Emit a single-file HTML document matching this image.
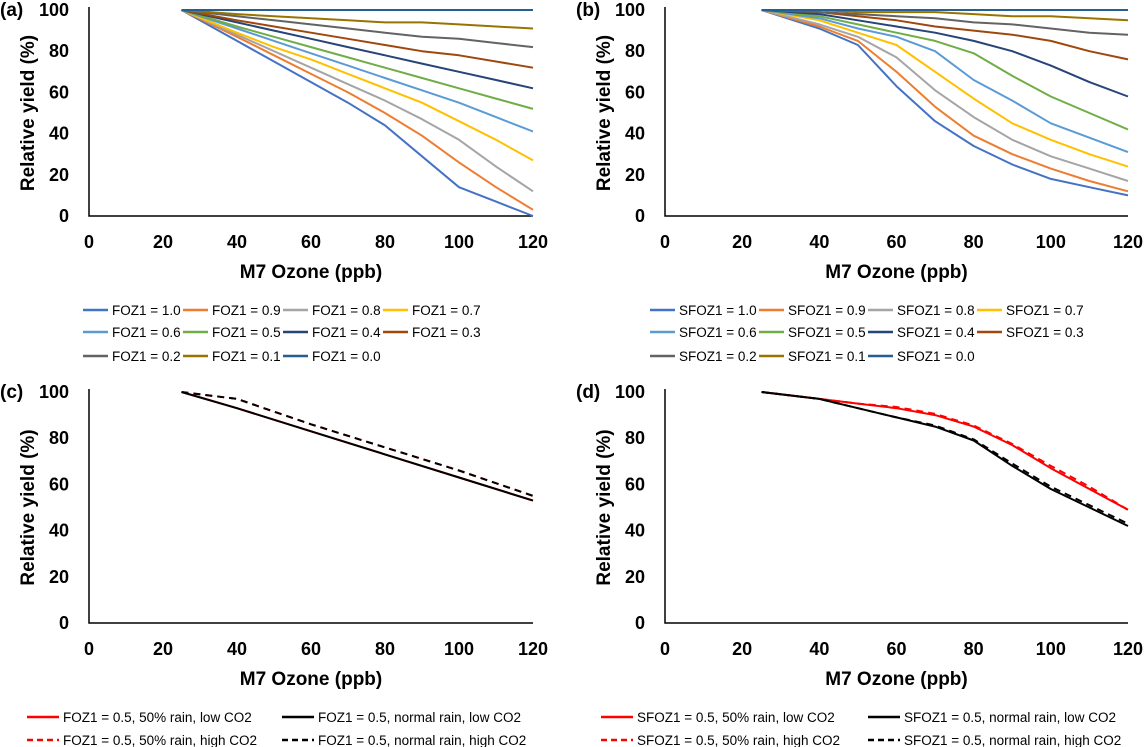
<!DOCTYPE html>
<html><head><meta charset="utf-8">
<style>
html,body{margin:0;padding:0;background:#fff;}
svg{display:block;font-family:"Liberation Sans",Arial,sans-serif;}
.tick{font-weight:bold;font-size:18px;fill:#000;}
.ttl{font-weight:bold;font-size:19px;fill:#000;}
.lg{font-size:13.5px;fill:#000;}
</style></head>
<body>
<svg id="chart" width="1147" height="747" viewBox="0 0 1147 747" xmlns="http://www.w3.org/2000/svg"></svg>
<script>
const xValsAB = [25,40,50,60,70,80,90,100,110,120];
const labelsA = ["FOZ1 = 1.0","FOZ1 = 0.9","FOZ1 = 0.8","FOZ1 = 0.7","FOZ1 = 0.6","FOZ1 = 0.5","FOZ1 = 0.4","FOZ1 = 0.3","FOZ1 = 0.2","FOZ1 = 0.1","FOZ1 = 0.0"];
const labelsB = ["SFOZ1 = 1.0","SFOZ1 = 0.9","SFOZ1 = 0.8","SFOZ1 = 0.7","SFOZ1 = 0.6","SFOZ1 = 0.5","SFOZ1 = 0.4","SFOZ1 = 0.3","SFOZ1 = 0.2","SFOZ1 = 0.1","SFOZ1 = 0.0"];
const colors = ["#4472C4","#ED7D31","#A5A5A5","#FFC000","#5B9BD5","#70AD47","#264478","#9E480E","#636363","#997300","#255E91"];
const seriesA = [
 [100,85,75,65,55,44,29,14,7,0],
 [100,87,78,69,60,50,39,26,14,3],
 [100,88,80,72,64,56,47,37,24,12],
 [100,89,82,76,69,62,55,46,37,27],
 [100,91,85,79,73,67,61,55,48,41],
 [100,92,87,82,77,72,67,62,57,52],
 [100,94,90,86,82,78,74,70,66,62],
 [100,95,92,89,86,83,80,78,75,72],
 [100,97,95,93,91,89,87,86,84,82],
 [100,98,97,96,95,94,94,93,92,91],
 [100,100,100,100,100,100,100,100,100,100]
];
const seriesB = [
 [100,91,83,63,46,34,25,18,14,10],
 [100,92,85,70,53,39,30,23,17,12],
 [100,93,87,77,61,48,37,29,23,17],
 [100,95,89,83,70,57,45,37,30,24],
 [100,96,91,87,80,66,56,45,38,31],
 [100,97,93,89,85,79,68,58,50,42],
 [100,98,95,92,89,85,80,73,65,58],
 [100,99,97,95,92,90,88,85,80,76],
 [100,99,98,97,96,94,93,91,89,88],
 [100,100,99,99,99,98,97,97,96,95],
 [100,100,100,100,100,100,100,100,100,100]
];
const xValsC = [25,40,60,80,100,120];
const cRedLow = [100,93,83,73,63,53];
const cBlackLow = [100,93,83,73,63,53];
const cRedHigh = [100,97,86,76,66,55];
const cBlackHigh = [100,97,86,76,66,55];
const xValsD = [25,40,50,60,70,80,90,100,110,120];
const dRedLow = [100,97,95,93,90,85,77,67,58,49];
const dRedHigh = [100,97,95,93.5,90.5,85.5,77.5,68,59,49];
const dBlackLow = [100,97,93,89,85,79,68,58,50,42];
const dBlackHigh = [100,97,93,89,85.5,79.5,69,59,51,43];
const xTicks = [0,20,40,60,80,100,120];
const yTicks = [0,20,40,60,80,100];
const labelsC = ["FOZ1 = 0.5, 50% rain, low CO2","FOZ1 = 0.5, normal rain, low CO2","FOZ1 = 0.5, 50% rain, high CO2","FOZ1 = 0.5, normal rain, high CO2"];
const labelsD = ["SFOZ1 = 0.5, 50% rain, low CO2","SFOZ1 = 0.5, normal rain, low CO2","SFOZ1 = 0.5, 50% rain, high CO2","SFOZ1 = 0.5, normal rain, high CO2"];

const svg = document.getElementById('chart');
const NS = "http://www.w3.org/2000/svg";
function mk(tag, attrs, parent){const e=document.createElementNS(NS,tag);for(const k in attrs)e.setAttribute(k,attrs[k]);(parent||svg).appendChild(e);return e;}

function panel(p){
  const g = mk('g',{});
  
  
  const sx = v => p.x0 + (v/120)*(p.x1-p.x0);
  const sy = v => p.y0 - (v/100)*(p.y0-p.y1);
  const ax = mk('path',{d:`M${p.x0} ${p.y1-3} V${p.y0} H${p.x1}`,stroke:'#000','stroke-width':1.5,fill:'none'},g);
  
  
  yTicks.forEach(v=>{
    const t = mk('text',{x:p.x0-20,y:sy(v)+6,'text-anchor':'end',class:'tick'},g);
    t.textContent=v;
    
    
  });
  xTicks.forEach(v=>{
    const t = mk('text',{x:sx(v),y:p.y0+32,'text-anchor':'middle',class:'tick'},g);
    t.textContent=v;
    
    
  });
  const xt = mk('text',{x:(p.x0+p.x1)/2,y:p.y0+62,'text-anchor':'middle',class:'ttl'},g);
  xt.textContent='M7 Ozone (ppb)';
  
  
  const yc = (p.y0+p.y1)/2;
  const yt = mk('text',{x:p.x0-62,y:yc,'text-anchor':'middle',class:'ttl',transform:`rotate(-90 ${p.x0-62} ${yc})`,dy:7},g);
  yt.textContent='Relative yield (%)';
  
  
  const pl = mk('text',{x:p.x0-89,y:p.y1+6,class:'ttl'},g);
  pl.textContent='('+p.id+')';
  
  
  p.series.forEach(s=>{
    const d = s.ys.map((v,i)=>(i?'L':'M')+sx(s.xs[i]).toFixed(1)+' '+sy(v).toFixed(1)).join(' ');
    const path = mk('path',{d,stroke:s.color,'stroke-width':2,fill:'none','stroke-dasharray':s.dash||'none','stroke-linejoin':'round'},g);
    
    
  });
}
function legendEntry(x,y,lineLen,color,dash,label){
  const g = mk('g',{});
  
  
  mk('line',{x1:x,y1:y,x2:x+lineLen,y2:y,stroke:color,'stroke-width':2.5,'stroke-dasharray':dash||'none'},g);
  const t = mk('text',{x:x+lineLen+4,y:y+5,class:'lg'},g);
  t.textContent=label;
}

panel({id:'a',x0:89,x1:533,y0:216,y1:10,series:seriesA.map((ys,i)=>({xs:xValsAB,ys,color:colors[i]}))});
panel({id:'b',x0:665,x1:1128,y0:216,y1:10,series:seriesB.map((ys,i)=>({xs:xValsAB,ys,color:colors[i]}))});
panel({id:'c',x0:89,x1:533,y0:623,y1:392,series:[
  {xs:xValsC,ys:cRedHigh,color:'#FF0000',dash:'7,5'},
  {xs:xValsC,ys:cBlackHigh,color:'#000',dash:'7,5'},
  {xs:xValsC,ys:cRedLow,color:'#FF0000'},
  {xs:xValsC,ys:cBlackLow,color:'#000'}]});
panel({id:'d',x0:665,x1:1128,y0:623,y1:392,series:[
  {xs:xValsD,ys:dRedLow,color:'#FF0000'},
  {xs:xValsD,ys:dRedHigh,color:'#FF0000',dash:'7,5'},
  {xs:xValsD,ys:dBlackLow,color:'#000'},
  {xs:xValsD,ys:dBlackHigh,color:'#000',dash:'7,5'}]});

const rows=[310,332,356];
labelsA.forEach((l,i)=>legendEntry(83+(i%4)*100,rows[Math.floor(i/4)],25,colors[i],null,l));
labelsB.forEach((l,i)=>legendEntry(650+(i%4)*109,rows[Math.floor(i/4)],25,colors[i],null,l));
const cols=['#FF0000','#000','#FF0000','#000'];
const dashes=[null,null,'6,4','6,4'];
labelsC.forEach((l,i)=>legendEntry([27,282][i%2],[717,740][Math.floor(i/2)],32,cols[i],dashes[i],l));
labelsD.forEach((l,i)=>legendEntry([601,868][i%2],[717,740][Math.floor(i/2)],32,cols[i],dashes[i],l));
</script>
</body></html>
